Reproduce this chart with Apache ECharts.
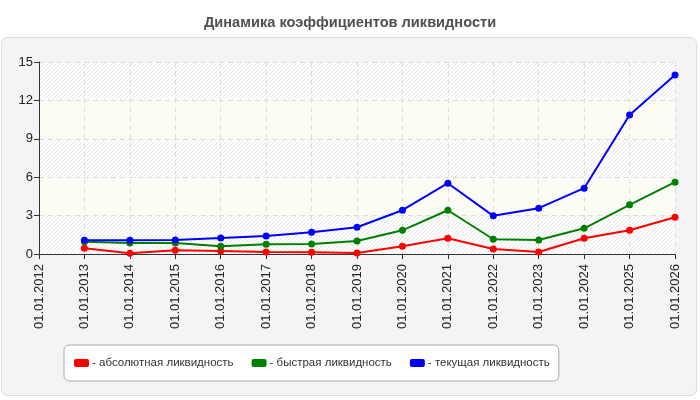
<!DOCTYPE html>
<html><head><meta charset="utf-8">
<script src="https://cdn.jsdelivr.net/npm/echarts@6/dist/echarts.min.js"></script>
<style>html,body{margin:0;padding:0;background:#fff}#c{width:700px;height:400px}</style>
</head><body><div id="c"></div>
<script>
var categories = ['01.01.2012','01.01.2013','01.01.2014','01.01.2015','01.01.2016','01.01.2017','01.01.2018','01.01.2019','01.01.2020','01.01.2021','01.01.2022','01.01.2023','01.01.2024','01.01.2025','01.01.2026'];
var absoluteLiquidity = [null,0.45,0.05,0.29,0.24,0.16,0.13,0.08,0.60,1.23,0.39,0.16,1.23,1.85,2.87];
var quickLiquidity = [null,0.96,0.86,0.86,0.60,0.76,0.78,1.02,1.85,3.42,1.15,1.10,2.01,3.84,5.61];
var currentLiquidity = [null,1.07,1.07,1.10,1.25,1.41,1.70,2.09,3.42,5.53,2.98,3.58,5.14,10.86,13.99];
var seriesNames = ['абсолютная ликвидность','быстрая ликвидность','текущая ликвидность'];
var yTicks = {min:0, max:15, interval:3};

var pc = document.createElement('canvas');
pc.width = 4; pc.height = 4;
var ctx = pc.getContext('2d');
ctx.fillStyle = '#ffffff'; ctx.fillRect(0,0,4,4);
ctx.strokeStyle = '#e8e8e8'; ctx.lineWidth = 1;
ctx.beginPath(); ctx.moveTo(0,4); ctx.lineTo(4,0); ctx.stroke();
var hatch = {image: pc, repeat: 'repeat'};

var chart = echarts.init(document.getElementById('c'));
function mk(name, data, color){
  return {name:name, type:'line', data:data, symbol:'circle', symbolSize:7,
    lineStyle:{color:color, width:2}, itemStyle:{color:color}, connectNulls:false};
}
chart.setOption({
  animation:false,
  backgroundColor:'#ffffff',
  graphic:[{type:'rect', z:-10, shape:{x:1.5,y:37.5,width:695,height:358,r:6},
    style:{fill:'#f4f4f4', stroke:'#dddddd', lineWidth:1}}],
  title:{text:'Динамика коэффициентов ликвидности', left:'center', top:10,
    textStyle:{fontFamily:'Liberation Sans, Arial', fontSize:14.6, fontWeight:'bold', color:'#505050'}},
  grid:{left:39, right:25, top:62, bottom:146, containLabel:false},
  legend:{left:64, top:345, width:494, height:14, padding:[12,9,12,10], itemGap:18,
    backgroundColor:'#ffffff', borderColor:'#aaaaaa', borderWidth:1, borderRadius:5,
    itemWidth:15, itemHeight:8, icon:'roundRect',
    formatter:function(n){return '- ' + n;},
    textStyle:{fontFamily:'Liberation Sans, Arial', fontSize:11.5, color:'#333', padding:[0,0,0,-2]},
    data:seriesNames},
  xAxis:{type:'category', data:categories, boundaryGap:false,
    axisLine:{lineStyle:{color:'#333'}},
    axisTick:{show:true, alignWithLabel:true, length:5, lineStyle:{color:'#333'}},
    axisLabel:{rotate:90, interval:0, color:'#222', fontFamily:'Liberation Sans, Arial', fontSize:13, margin:10},
    splitLine:{show:true, lineStyle:{color:'#dddddd', type:[5,4]}}},
  yAxis:{type:'value', min:yTicks.min, max:yTicks.max, interval:yTicks.interval,
    axisLine:{show:true, lineStyle:{color:'#333'}},
    axisTick:{show:true, length:5, lineStyle:{color:'#333'}},
    axisLabel:{color:'#222', fontFamily:'Liberation Sans, Arial', fontSize:13, margin:6},
    splitLine:{show:true, lineStyle:{color:'#dddddd', type:[5,4]}},
    splitArea:{show:true, areaStyle:{color:[hatch,'#fcfcf4']}}},
  series:[mk(seriesNames[0], absoluteLiquidity, '#ff0000'),
          mk(seriesNames[1], quickLiquidity, '#008000'),
          mk(seriesNames[2], currentLiquidity, '#0000ff')]
});
</script></body></html>
